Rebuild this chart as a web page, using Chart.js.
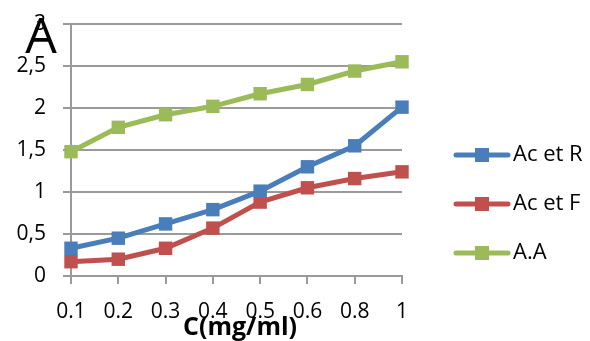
<!DOCTYPE html>
<html>
<head>
<meta charset="utf-8">
<script src="https://cdn.jsdelivr.net/npm/chart.js@4.4.1/dist/chart.umd.min.js"></script>
<style>
  html, body { margin: 0; padding: 0; background: #fff; }
  #wrap { width: 590px; height: 341px; }
</style>
</head>
<body>
<div id="wrap"><canvas id="c" width="590" height="341"></canvas></div>
<script>
// Concentrations (mg/ml)
const categories = ['0.1', '0.2', '0.3', '0.4', '0.5', '0.6', '0.8', '1'];

// Absorbance per extract
const acEtR = [0.33, 0.45, 0.62, 0.79, 1.01, 1.30, 1.55, 2.01];
const acEtF = [0.17, 0.20, 0.33, 0.57, 0.88, 1.05, 1.16, 1.24];
const aA    = [1.48, 1.77, 1.92, 2.02, 2.17, 2.28, 2.44, 2.55];

const seriesNames = ['Ac et R', 'Ac et F', 'A.A'];
const seriesColors = ['#4a7ebb', '#c0504d', '#9bbb59'];

// Y tick labels use a decimal comma
const yTickLabels = ['0', '0,5', '1', '1,5', '2', '2,5', '3'];

const yTitle = 'A';
const xTitle = 'C(mg/ml)';

const FONT = "'Open Sans', 'Liberation Sans', sans-serif";
const GRID = '#9a9a9a';

function makeDataset(label, data, color) {
  return {
    label: label,
    data: data,
    borderColor: color,
    backgroundColor: color,
    borderWidth: 5,
    pointStyle: 'rect',
    pointRadius: 9.5,
    pointHoverRadius: 9.5,
    pointBorderWidth: 0,
    tension: 0,
    clip: false
  };
}

// Axis titles and the legend on the right
const decorations = {
  id: 'decorations',
  afterDraw(chart) {
    const ctx = chart.ctx;
    ctx.save();
    ctx.fillStyle = '#000';

    ctx.textBaseline = 'alphabetic';
    ctx.font = '50px ' + FONT;
    ctx.textAlign = 'center';
    ctx.fillText(yTitle, 41, 53);

    ctx.font = 'bold 25px ' + FONT;
    ctx.fillText(xTitle, 240, 335);

    ctx.textBaseline = 'middle';
    const ys = [155, 204, 253];
    chart.data.datasets.forEach((ds, i) => {
      const y = ys[i];
      ctx.strokeStyle = ds.borderColor;
      ctx.lineWidth = 5;
      ctx.lineCap = 'round';
      ctx.beginPath();
      ctx.moveTo(456, y);
      ctx.lineTo(508, y);
      ctx.stroke();
      ctx.fillStyle = ds.borderColor;
      ctx.fillRect(475, y - 7, 14, 14);
      ctx.fillStyle = '#000';
      ctx.font = '22px ' + FONT;
      ctx.textAlign = 'left';
      ctx.fillText(ds.label, 513, y);
    });
    ctx.restore();
  }
};

new Chart(document.getElementById('c'), {
  type: 'line',
  data: {
    labels: categories,
    datasets: [
      makeDataset(seriesNames[0], acEtR, seriesColors[0]),
      makeDataset(seriesNames[1], acEtF, seriesColors[1]),
      makeDataset(seriesNames[2], aA, seriesColors[2])
    ]
  },
  options: {
    responsive: false,
    animation: false,
    devicePixelRatio: 1,
    layout: { padding: { left: 0, right: 188, top: 24, bottom: 0 } },
    plugins: {
      legend: { display: false },
      tooltip: { enabled: false }
    },
    scales: {
      x: {
        type: 'category',
        offset: false,
        afterFit(scale) { scale.height = 65; },
        grid: {
          display: true,
          drawOnChartArea: false,
          drawTicks: true,
          tickLength: 8,
          color: GRID,
          lineWidth: 2
        },
        border: { display: true, color: GRID, width: 2 },
        ticks: {
          color: '#000',
          font: { family: FONT, size: 21 },
          padding: 15,
          maxRotation: 0,
          autoSkip: false
        }
      },
      y: {
        type: 'linear',
        min: 0,
        max: 3,
        afterFit(scale) {
          scale.width = 71;
          scale.paddingTop = 0;
          scale.paddingBottom = 0;
        },
        grid: {
          color: GRID,
          lineWidth: 2,
          tickLength: 8
        },
        border: { display: true, color: GRID, width: 2 },
        ticks: {
          stepSize: 0.5,
          color: '#000',
          font: { family: FONT, size: 21 },
          padding: 17,
          callback: (v, i) => yTickLabels[i]
        }
      }
    }
  },
  plugins: [decorations]
});
</script>
</body>
</html>
